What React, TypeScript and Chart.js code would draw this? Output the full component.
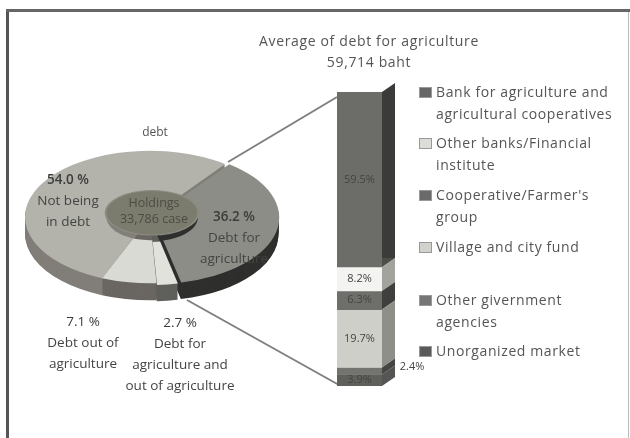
import React, { useEffect, useRef } from "react";
import { Chart, registerables } from "chart.js";

Chart.register(...registerables);

// Data
const pieValues = [36.2, 2.7, 7.1, 54.0];
const pieNames = [
  ["Debt for", "agriculture"],
  ["Debt for", "agriculture and", "out of agriculture"],
  ["Debt out of", "agriculture"],
  ["Not being", "in debt"],
];
const sourceNames = [
  "Bank for agriculture and agricultural cooperatives",
  "Other banks/Financial institute",
  "Cooperative/Farmer's group",
  "Village and city fund",
  "Other givernment agencies",
  "Unorganized market",
];
const sourceValues = [59.5, 8.2, 6.3, 19.7, 2.4, 3.9];
const legendLines = [
  ["Bank for agriculture and", "agricultural cooperatives"],
  ["Other banks/Financial", "institute"],
  ["Cooperative/Farmer's", "group"],
  ["Village and city fund"],
  ["Other givernment", "agencies"],
  ["Unorganized market"],
];
const titleLines = ["Average of debt for agriculture", "59,714 baht"];
const pieTitle = "debt";
const holeLines = ["Holdings", "33,786 case"];

// Styles and layout
const pieTop = ["#8d8d87", "#e2e2dc", "#dadad4", "#b3b3ac"];
const pieSide = ["#2f2f2e", "#5f5f5b", "#6a6662", "#827e79"];
const pieOffset = [14, 8, 0, 0];
const barFront = ["#6c6c68", "#f3f3f1", "#6e6e6a", "#cfcfc9", "#737370", "#5f5f5c"];
const barSide = ["#3b3b39", "#a3a39d", "#3f3f3d", "#8f8f8a", "#454543", "#555553"];
const swatches = ["#666666", "#dcdcd8", "#6a6a6a", "#d2d2cc", "#757575", "#5a5a5a"];
const legendY = [92, 143, 195, 247, 300, 351];
const pieTextPos = [
  { x: 234, y: 217 },
  { x: 180, y: 323 },
  { x: 83, y: 322 },
  { x: 68, y: 180 },
];
const FONT = '"Open Sans", "Noto Sans", sans-serif';
const INK = "#555";
const PIE_RATIO = 0.53;
const PIE_DEPTH = 17;

function sector(ctx: CanvasRenderingContext2D, arc: any) {
  const { x, y, startAngle, endAngle, outerRadius } = arc.getProps(
    ["x", "y", "startAngle", "endAngle", "outerRadius"],
    true
  );
  const mid = (startAngle + endAngle) / 2;
  const off = (arc.options.offset || 0) / 4;
  const px = x + Math.cos(mid) * off;
  const py = y + Math.sin(mid) * off;
  ctx.beginPath();
  ctx.moveTo(px, py);
  ctx.arc(px, py, outerRadius, startAngle, endAngle);
  ctx.closePath();
}

const tiltPlugin = {
  id: "tilt",
  beforeDatasetsDraw(chart: any) {
    const ctx: CanvasRenderingContext2D = chart.ctx;
    const arcs = chart.getDatasetMeta(0).data;
    const cx = arcs[0].x;
    const cy = arcs[0].y;
    for (let d = PIE_DEPTH; d >= 1; d--) {
      ctx.save();
      ctx.translate(cx, cy + d);
      ctx.scale(1, PIE_RATIO);
      ctx.translate(-cx, -cy);
      arcs.forEach((arc: any, i: number) => {
        sector(ctx, arc);
        ctx.fillStyle = pieSide[i];
        ctx.fill();
      });
      ctx.restore();
    }
    ctx.save();
    ctx.translate(cx, cy);
    ctx.scale(1, PIE_RATIO);
    ctx.translate(-cx, -cy);
  },
  afterDatasetsDraw(chart: any) {
    const ctx: CanvasRenderingContext2D = chart.ctx;
    const arc = chart.getDatasetMeta(0).data[0];
    ctx.beginPath();
    ctx.ellipse(arc.x + 2, arc.y - 8, arc.innerRadius * 1.06, arc.innerRadius * 0.96, 0, 0, Math.PI * 2);
    ctx.fillStyle = "#7b7b6e";
    ctx.fill();
    ctx.lineWidth = 2;
    ctx.strokeStyle = "#8b8b82";
    ctx.stroke();
    ctx.restore();

    // zoom connectors from the pie to the column
    ctx.save();
    ctx.strokeStyle = "#7f7f7f";
    ctx.lineWidth = 2;
    ctx.beginPath();
    ctx.moveTo(228, 162);
    ctx.lineTo(337, 97);
    ctx.moveTo(187, 300);
    ctx.lineTo(339, 385);
    ctx.stroke();
    ctx.restore();
  },
};

const columnPlugin = {
  id: "column3d",
  beforeDatasetsDraw(chart: any) {
    const ctx: CanvasRenderingContext2D = chart.ctx;
    const dx = 13;
    const dy = 9;
    ctx.save();
    chart.data.datasets.forEach((_: any, i: number) => {
      const bar = chart.getDatasetMeta(i).data[0];
      const { x, y, base, width } = bar.getProps(["x", "y", "base", "width"], true);
      const r = x + width / 2;
      const l = x - width / 2;
      ctx.fillStyle = barSide[i];
      ctx.beginPath();
      ctx.moveTo(r, y);
      ctx.lineTo(r + dx, y - dy);
      ctx.lineTo(r + dx, base - dy);
      ctx.lineTo(r, base);
      ctx.closePath();
      ctx.fill();
      if (i === 0) {
        ctx.fillStyle = "#4d4d4a";
        ctx.beginPath();
        ctx.moveTo(l, y);
        ctx.lineTo(l + dx, y - dy);
        ctx.lineTo(r + dx, y - dy);
        ctx.lineTo(r, y);
        ctx.closePath();
        ctx.fill();
      }
    });
    ctx.restore();
  },
  afterDatasetsDraw(chart: any) {
    const ctx: CanvasRenderingContext2D = chart.ctx;
    ctx.save();
    ctx.font = `11px ${FONT}`;
    ctx.textBaseline = "middle";
    ctx.textAlign = "center";
    ctx.fillStyle = "#444";
    chart.data.datasets.forEach((ds: any, i: number) => {
      const bar = chart.getDatasetMeta(i).data[0];
      const { x, y, base, width } = bar.getProps(["x", "y", "base", "width"], true);
      const label = `${ds.data[0].toFixed(1)}%`;
      if (ds.data[0] < 3) {
        ctx.fillText(label, x + width / 2 + 30, (y + base) / 2 - 4);
      } else {
        ctx.fillText(label, x, (y + base) / 2);
      }
    });
    ctx.restore();
  },
};

function Text({ x, y, children, size = 12, color = INK, left = false, weight = 400, spacing = 0 }: any) {
  return (
    <div
      style={{
        position: "absolute",
        left: x,
        top: y,
        transform: left ? "translateY(-50%)" : "translate(-50%, -50%)",
        fontFamily: FONT,
        fontSize: size,
        fontWeight: weight,
        letterSpacing: spacing,
        color,
        whiteSpace: "nowrap",
        lineHeight: 1,
      }}
    >
      {children}
    </div>
  );
}

export default function App() {
  const pieRef = useRef<HTMLCanvasElement>(null);
  const barRef = useRef<HTMLCanvasElement>(null);

  useEffect(() => {
    const pie = new Chart(pieRef.current!, {
      type: "doughnut",
      data: {
        labels: pieNames.map((n) => n.join(" ")),
        datasets: [
          {
            data: pieValues,
            backgroundColor: pieTop,
            offset: pieOffset,
            borderWidth: 0,
          },
        ],
      },
      options: {
        animation: false,
        responsive: false,
        rotation: 37,
        radius: 125,
        cutout: 50,
        layout: { padding: { left: 0, right: 330, top: 0, bottom: 4 } },
        plugins: { legend: { display: false }, tooltip: { enabled: false } },
      },
      plugins: [tiltPlugin],
    } as any);

    // stacked bottom-to-top: last source sits at the base of the column
    const order = sourceValues.map((_, i) => i);
    const bar = new Chart(barRef.current!, {
      type: "bar",
      data: {
        labels: ["Average of debt for agriculture"],
        datasets: order.map((i) => ({
          label: sourceNames[i],
          data: [sourceValues[i]],
          backgroundColor: barFront[i],
          borderWidth: 0,
          barPercentage: 1,
          categoryPercentage: 1,
        })),
      },
      options: {
        animation: false,
        responsive: false,
        layout: { padding: { left: 7, right: 48, top: 12, bottom: 14 } },
        scales: {
          x: { display: false, stacked: true },
          y: { display: false, stacked: true, min: 0, max: 100, reverse: true },
        },
        plugins: { legend: { display: false }, tooltip: { enabled: false } },
      },
      plugins: [columnPlugin],
    } as any);

    return () => {
      pie.destroy();
      bar.destroy();
    };
  }, []);

  return (
    <div
      style={{
        position: "absolute",
        left: 0,
        top: 0,
        width: 630,
        height: 438,
        background: "#fff",
        overflow: "hidden",
        filter: "blur(0.6px)",
      }}
    >
      <div style={{ position: "absolute", left: 6, top: 9, width: 3, height: 429, background: "#555" }} />
      <div style={{ position: "absolute", left: 6, top: 9, width: 624, height: 3, background: "#666" }} />
      <div style={{ position: "absolute", left: 628, top: 12, width: 1, height: 426, background: "#bbb" }} />
      <canvas ref={pieRef} width={630} height={438} style={{ position: "absolute", left: 0, top: 0 }} />
      <canvas ref={barRef} width={100} height={320} style={{ position: "absolute", left: 330, top: 80 }} />

      {titleLines.map((t, i) => (
        <Text key={t} x={369} y={41 + i * 21} size={14} spacing={0.65}>{t}</Text>
      ))}
      <Text x={155} y={132} size={12}>{pieTitle}</Text>
      {holeLines.map((t, i) => (
        <Text key={t} x={154} y={203 + i * 16} size={12.5} color="#4c4c42">{t}</Text>
      ))}
      {pieValues.map((v, i) => (
        <React.Fragment key={i}>
          <Text x={pieTextPos[i].x} y={pieTextPos[i].y} size={13.5} color="#3c3c3c" weight={i === 0 || i === 3 ? 600 : 400}>{v.toFixed(1)} %</Text>
          {pieNames[i].map((line, j) => (
            <Text key={line} x={pieTextPos[i].x} y={pieTextPos[i].y + 21 * (j + 1)} size={13.5} color="#444">{line}</Text>
          ))}
        </React.Fragment>
      ))}
      {legendLines.map((lines, i) => (
        <React.Fragment key={i}>
          <div
            style={{
              position: "absolute",
              left: 419,
              top: legendY[i] - 5,
              width: 11,
              height: 9,
              background: swatches[i],
              border: "1px solid #999",
            }}
          />
          {lines.map((line, j) => (
            <Text key={line} x={436} y={legendY[i] + j * 21.5} size={14} spacing={0.6} left>{line}</Text>
          ))}
        </React.Fragment>
      ))}
    </div>
  );
}
